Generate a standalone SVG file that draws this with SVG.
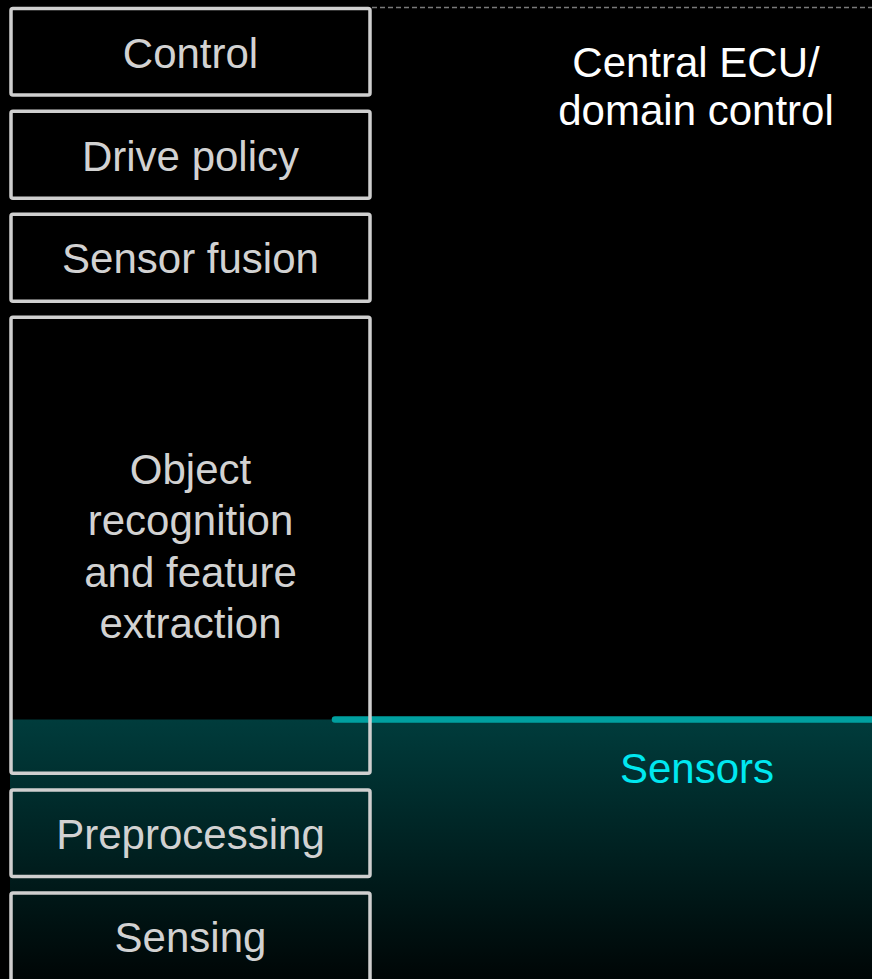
<svg xmlns="http://www.w3.org/2000/svg" width="872" height="979" viewBox="0 0 872 979">
  <defs>
    <linearGradient id="sensorZone" x1="0" y1="0" x2="0" y2="1">
      <stop offset="0" stop-color="#003c3c"/>
      <stop offset="1" stop-color="#000606"/>
    </linearGradient>
    <style>
      .box { fill: none; stroke: #cfcfcf; stroke-width: 3.5; }
      .lbl { font-family: "Liberation Sans", Arial, sans-serif; font-size: 42px; fill: #d2d2d2; text-anchor: middle; }
      .zone { font-family: "Liberation Sans", Arial, sans-serif; font-size: 42px; text-anchor: middle; }
    </style>
  </defs>

  <!-- background -->
  <rect x="0" y="0" width="872" height="979" fill="#000"/>
  <!-- sensor zone shading -->
  <rect x="10" y="719.5" width="862" height="260" fill="url(#sensorZone)"/>

  <!-- boundaries between zones -->
  <g id="connectors">
    <line x1="372" y1="7.5" x2="872" y2="7.5" stroke="#7a7a7a" stroke-width="1.5" stroke-dasharray="5 3"/>
    <line x1="335" y1="719.5" x2="875" y2="719.5" stroke="#00a0a0" stroke-width="6.5" stroke-linecap="round"/>
  </g>

  <!-- zone labels -->
  <g id="zone-ecu">
    <text class="zone" x="696" y="76.5" fill="#ffffff">Central ECU/</text>
    <text class="zone" x="696" y="125" fill="#ffffff">domain control</text>
  </g>
  <g id="zone-sensors">
    <text class="zone" x="697" y="783" fill="#00e8f0">Sensors</text>
  </g>

  <!-- processing stack -->
  <g id="control">
    <rect class="box" x="11" y="8.5" width="359" height="86.5" rx="2"/>
    <text class="lbl" x="190.5" y="67.5">Control</text>
  </g>
  <g id="drive-policy">
    <rect class="box" x="11" y="111.3" width="359" height="87" rx="2"/>
    <text class="lbl" x="190.5" y="171">Drive policy</text>
  </g>
  <g id="sensor-fusion">
    <rect class="box" x="11" y="214.3" width="359" height="87" rx="2"/>
    <text class="lbl" x="190.5" y="272.5">Sensor fusion</text>
  </g>
  <g id="object-recognition">
    <rect class="box" x="11" y="317.3" width="359" height="456" rx="2"/>
    <text class="lbl" x="190.5" y="483.5">Object</text>
    <text class="lbl" x="190.5" y="535">recognition</text>
    <text class="lbl" x="190.5" y="586.5">and feature</text>
    <text class="lbl" x="190.5" y="638">extraction</text>
  </g>
  <g id="preprocessing">
    <rect class="box" x="11" y="790" width="359" height="86.5" rx="2"/>
    <text class="lbl" x="190.5" y="849">Preprocessing</text>
  </g>
  <g id="sensing">
    <rect class="box" x="11" y="893" width="359" height="90" rx="2"/>
    <text class="lbl" x="190.5" y="952">Sensing</text>
  </g>
</svg>
